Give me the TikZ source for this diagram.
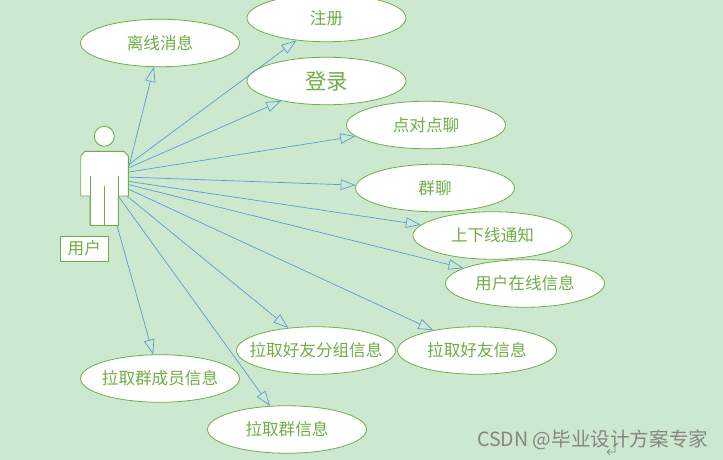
\documentclass[tikz,border=0pt]{standalone}
\usepackage{fontspec}
\setmainfont{Noto Sans CJK SC}
\usetikzlibrary{shapes.geometric,arrows.meta}
\definecolor{bgc}{HTML}{CCE8CF}
\definecolor{grn}{HTML}{70AD47}
\definecolor{blu}{HTML}{5B9BD5}
\newcommand{\uct}[1]{\makebox[0pt][c]{#1}}
\tikzset{
 uc/.style={ellipse,draw=grn,fill=white,line width=0.8pt,minimum width=159pt,minimum height=47.5pt,inner sep=0pt,text=grn,font=\fontsize{16.6}{18}\selectfont},
 conn/.style={draw=blu,line width=0.7pt,-{Triangle[open,fill=bgc,length=15pt,width=10.5pt]}},
 actorline/.style={draw=grn,line width=0.9pt,fill=white,line join=miter}
}
\begin{document}
\begin{tikzpicture}[x=1pt,y=-1pt]
\path[fill=bgc] (0,0) rectangle (723,460);
\useasboundingbox (0,0) rectangle (723,460);
\begin{scope}
\clip (0,0) rectangle (723,460);
\node[uc] (reg) at (326.5,18) {\uct{注册}};
\node[uc] (offmsg) at (160,43) {\uct{离线消息}};
\node[uc,font=\fontsize{21.5}{24}\selectfont] (login) at (326.5,81) {\uct{登录}};
\node[uc] (p2p) at (426,125) {\uct{点对点聊}};
\node[uc] (grp) at (435,188) {\uct{群聊}};
\node[uc] (notify) at (492.5,235.5) {\uct{上下线通知}};
\node[uc] (online) at (525,283.5) {\uct{用户在线信息}};
\node[uc] (fgroup) at (316,350.5) {\uct{拉取好友分组信息}};
\node[uc] (finfo) at (477,350.5) {\uct{拉取好友信息}};
\node[uc] (members) at (160,378.5) {\uct{拉取群成员信息}};
\node[uc] (ginfo) at (287,429.5) {\uct{拉取群信息}};
\end{scope}
\coordinate (a1) at (126,178);
\coordinate (a2) at (126,166.5);
\coordinate (a3) at (126,169);
\coordinate (a4) at (126,172.5);
\coordinate (a5) at (126,177);
\coordinate (a6) at (126,181);
\coordinate (a7) at (126,184);
\coordinate (a8) at (126,188);
\coordinate (a9) at (122,192);
\coordinate (a10) at (116,222);
\coordinate (a11) at (116,193);
\draw[conn] (a1) -- (offmsg);
\draw[conn] (a2) -- (reg);
\draw[conn] (a3) -- (login);
\draw[conn] (a4) -- (p2p);
\draw[conn] (a5) -- (grp);
\draw[conn] (a6) -- (notify);
\draw[conn] (a7) -- (online);
\draw[conn] (a8) -- (finfo);
\draw[conn] (a9) -- (fgroup);
\draw[conn] (a10) -- (members);
\draw[conn] (a11) -- (ginfo);
\node[circle,actorline,minimum size=20pt,inner sep=0pt] (head) at (104.3,136.3) {};
\path[actorline] (85,151.3) -- (124,151.3) -- (128.3,156) -- (128.3,196) -- (118.3,196) -- (118.3,225.5) -- (90,225.5) -- (90,196) -- (80.7,196) -- (80.7,156) -- cycle;
\draw[grn,line width=0.9pt] (90,176) -- (90,225.5) (118.3,176) -- (118.3,225.5) (104.3,186) -- (104.3,225.5);
\node[draw=grn,fill=white,line width=0.9pt,minimum width=47.5pt,minimum height=25pt,inner sep=0pt,text=grn,font=\fontsize{16.6}{18}\selectfont] (userlabel) at (84.3,248.5) {用户};
\node[anchor=west,inner sep=0pt,text=black!48,font=\fontsize{19.6}{22}\selectfont] (mark) at (477,440) {CSDN @毕业设计方案专家};
\draw[black!50,line width=0.7pt] (615,445) -- (615,452) -- (607,452) (610,449) -- (607,452) -- (610,455);
\end{tikzpicture}
\end{document}
